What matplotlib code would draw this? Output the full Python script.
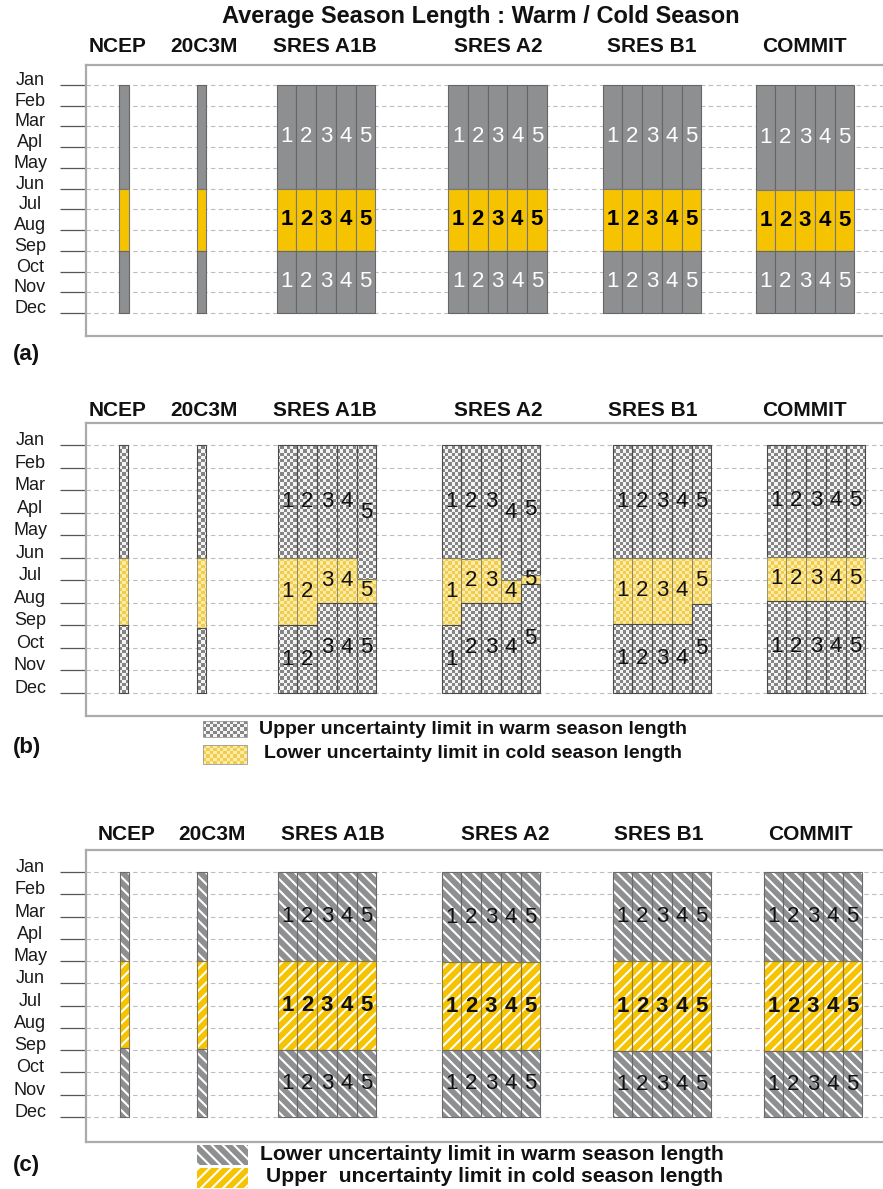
import numpy as np
import matplotlib
matplotlib.use('Agg')
import matplotlib.pyplot as plt
from matplotlib.colors import ListedColormap
from matplotlib.patches import Rectangle
from matplotlib.path import Path

plt.rcParams['font.family'] = ['Liberation Sans', 'DejaVu Sans']
plt.rcParams['hatch.linewidth'] = 1.5

# ---- data -------------------------------------------------------------
months = ['Jan', 'Feb', 'Mar', 'Apl', 'May', 'Jun',
          'Jul', 'Aug', 'Sep', 'Oct', 'Nov', 'Dec']
sources = ['NCEP', '20C3M', 'SRES A1B', 'SRES A2', 'SRES B1', 'COMMIT']
runs = ['1', '2', '3', '4', '5']
year_start, year_end = 1.0, 12.0   # Jan .. Dec

# warm season start / end (month units, Jan = 1), one list per source
warm_start_a = [[6.0], [6.0],
                [6.0, 6.0, 6.0, 6.0, 6.0],
                [6.0, 6.0, 6.0, 6.0, 6.0],
                [6.0, 6.0, 6.0, 6.0, 6.0],
                [6.05, 6.05, 6.05, 6.05, 6.05]]
warm_end_a = [[9.0], [9.0],
              [9.0, 9.0, 9.0, 9.0, 9.0],
              [9.0, 9.0, 9.0, 9.0, 9.0],
              [9.0, 9.0, 9.0, 9.0, 9.0],
              [9.0, 9.0, 9.0, 9.0, 9.0]]

warm_start_b = [[6.0], [6.0],
                [6.0, 6.0, 6.0, 6.0, 6.95],
                [6.0, 6.05, 6.0, 7.0, 6.75],
                [6.0, 6.0, 6.0, 6.0, 6.0],
                [5.95, 5.95, 5.95, 5.95, 5.95]]
warm_end_b = [[9.0], [9.1],
              [9.0, 9.0, 8.0, 8.0, 8.0],
              [9.0, 8.0, 8.0, 8.0, 7.15],
              [8.95, 8.95, 8.95, 8.95, 8.05],
              [7.9, 7.9, 7.9, 7.9, 7.9]]

warm_start_c = [[5.0], [5.0],
                [5.0, 5.0, 5.0, 5.0, 5.0],
                [5.05, 5.05, 5.05, 5.05, 5.05],
                [5.0, 5.0, 5.0, 5.0, 5.0],
                [5.0, 5.0, 5.0, 5.0, 5.0]]
warm_end_c = [[8.9], [8.95],
              [9.0, 9.0, 9.0, 9.0, 9.0],
              [9.0, 9.0, 9.0, 9.0, 9.0],
              [9.05, 9.05, 9.05, 9.05, 9.05],
              [9.05, 9.05, 9.05, 9.05, 9.05]]

# ---- layout (pixels) ----------------------------------------------------
W, H = 883, 1189
AX_LEFT = 86
run_w, single_w = 19.7, 9.5
cell_px = 3.3

centers = [[124, 201.5, 326, 497.5, 652, 805],
           [123.5, 201.5, 327, 491, 662, 816],
           [124.5, 202, 327, 491, 662, 813]]
header_x = [[118, 204, 325, 498, 652, 804],
            [118, 204, 325, 498, 653, 804],
            [127, 212, 333, 505, 659, 810]]
header_y = [47, 411, 834]
boxes = [(65, 336), (423, 716), (850, 1142)]
jan_dec = [(85, 313), (445, 693), (872, 1117)]

GRAY = '#8e8f91'
YELLOW = '#f6c300'
DIGIT = 16

fig = plt.figure(figsize=(W / 100, H / 100), dpi=100)
ov = fig.add_axes([0, 0, 1, 1], zorder=-1)
ov.set_xlim(0, W)
ov.set_ylim(H, 0)
ov.axis('off')


def bar_x(c, n):
    w = run_w if n > 1 else single_w
    return c + (np.arange(n) - (n - 1) / 2) * w, w


def draw_segments(ax, cents, starts, ends, kw_cold, kw_warm):
    cold, warm = [], []
    for c, st, en in zip(cents, starts, ends):
        st = np.asarray(st, float)
        en = np.asarray(en, float)
        xs, w = bar_x(c, len(st))
        cold += list(ax.bar(xs, st - year_start, bottom=year_start, width=w, **kw_cold))
        warm += list(ax.bar(xs, en - st, bottom=st, width=w, **kw_warm))
        cold += list(ax.bar(xs, year_end - en, bottom=en, width=w, **kw_cold))
    return cold, warm


def draw_numbers(ax, cents, starts, ends, styles):
    for c, st, en in zip(cents, starts, ends):
        if len(st) == 1:
            continue
        xs, _ = bar_x(c, len(st))
        for x, s, e, r in zip(xs, st, en, runs):
            ax.text(x, (year_start + s) / 2, r, ha='center', va='center', zorder=6, **styles[0])
            ax.text(x, (s + e) / 2, r, ha='center', va='center', zorder=6, **styles[1])
            ax.text(x, (e + year_end) / 2, r, ha='center', va='center', zorder=6, **styles[2])


def checker_array(nx, ny):
    return np.add.outer(np.arange(ny), np.arange(nx)) % 2


def checker_fill(ax, patches, c1, c2):
    x0, x1 = ax.get_xlim()
    y0, y1 = ax.get_ylim()
    bb = ax.get_position()
    nx = int(round(bb.width * W / cell_px))
    ny = int(round(bb.height * H / cell_px))
    im = ax.imshow(checker_array(nx, ny), cmap=ListedColormap([c1, c2]), vmin=0, vmax=1,
                   extent=(x0, x1, y0, y1), aspect='auto', interpolation='nearest', zorder=3)
    path = Path.make_compound_path(*[p.get_path().transformed(p.get_patch_transform())
                                     for p in patches])
    im.set_clip_path(path, ax.transData)
    ax.set_xlim(x0, x1)
    ax.set_ylim(y0, y1)


def make_axes(i):
    top, bot = boxes[i]
    jan, dec = jan_dec[i]
    ax = fig.add_axes([AX_LEFT / W, 1 - bot / H, (W - AX_LEFT) / W, (bot - top) / H])
    per = (dec - jan) / 11
    ax.set_xlim(AX_LEFT, W)
    ax.set_ylim(12 + (bot - dec) / per, 1 - (jan - top) / per)
    ax.set_xticks([])
    ax.set_yticks(np.arange(1, 13))
    ax.set_yticklabels(months, ha='center', va='baseline', fontsize=13, color='#1a1a1a')
    ax.tick_params(axis='y', length=18.7, width=0.9, color='#555555', pad=21.6)
    ax.yaxis.grid(True, linestyle=(0, (4, 3)), color='#bdbdbd', linewidth=0.8)
    ax.set_axisbelow(True)
    for s in ['top', 'left', 'bottom']:
        ax.spines[s].set_color('#ababab')
        ax.spines[s].set_linewidth(1.6)
    ax.spines['right'].set_visible(False)
    for name, hx in zip(sources, header_x[i]):
        fig.text(hx / W, 1 - header_y[i] / H, name, ha='center', va='center',
                 fontsize=15, fontweight='bold', color='#111111')
    return ax


# ---- (a) mean season length -----------------------------------------
ax_a = make_axes(0)
lim = (ax_a.get_xlim(), ax_a.get_ylim())
draw_segments(ax_a, centers[0], warm_start_a, warm_end_a,
              dict(color=GRAY, edgecolor='#666666', linewidth=0.8, zorder=3),
              dict(color=YELLOW, edgecolor='#777777', linewidth=0.8, zorder=3))
draw_numbers(ax_a, centers[0], warm_start_a, warm_end_a,
             [dict(color='white', fontsize=DIGIT),
              dict(color='black', fontsize=DIGIT, fontweight='bold'),
              dict(color='white', fontsize=DIGIT)])
ax_a.set_xlim(*lim[0])
ax_a.set_ylim(*lim[1])

# ---- (b) upper warm / lower cold limits (checker) ---------------------
ax_b = make_axes(1)
lim = (ax_b.get_xlim(), ax_b.get_ylim())
edge_kw = dict(facecolor='none', edgecolor='#4a4a4a', linewidth=0.8, zorder=4)
cold_b, warm_b = draw_segments(ax_b, centers[1], warm_start_b, warm_end_b, edge_kw,
                               dict(facecolor='none', edgecolor='#8a8a6a', linewidth=0.6, zorder=4))
ax_b.set_xlim(*lim[0])
ax_b.set_ylim(*lim[1])
checker_fill(ax_b, cold_b, '#858585', '#f4f4f4')
checker_fill(ax_b, warm_b, '#f0cd50', '#fdeca8')
draw_numbers(ax_b, centers[1], warm_start_b, warm_end_b,
             [dict(color='#111111', fontsize=DIGIT)] * 3)

# ---- (c) lower warm / upper cold limits (stripes) ---------------------
ax_c = make_axes(2)
lim = (ax_c.get_xlim(), ax_c.get_ylim())
draw_segments(ax_c, centers[2], warm_start_c, warm_end_c,
              dict(color=GRAY, edgecolor='white', hatch='\\\\\\', linewidth=0, zorder=3),
              dict(color=YELLOW, edgecolor='white', hatch='///', linewidth=0, zorder=3))
draw_segments(ax_c, centers[2], warm_start_c, warm_end_c,
              dict(facecolor='none', edgecolor='#6a6a6a', linewidth=0.8, zorder=4),
              dict(facecolor='none', edgecolor='#8a7a40', linewidth=0.8, zorder=4))
draw_numbers(ax_c, centers[2], warm_start_c, warm_end_c,
             [dict(color='#111111', fontsize=DIGIT),
              dict(color='#111111', fontsize=DIGIT, fontweight='bold'),
              dict(color='#111111', fontsize=DIGIT)])
ax_c.set_xlim(*lim[0])
ax_c.set_ylim(*lim[1])

# ---- title, panel letters, legends -----------------------------------
fig.text(481 / W, 1 - 17 / H, 'Average Season Length : Warm / Cold Season',
         ha='center', va='center', fontsize=17, fontweight='bold', color='#111111')
for lab, py in zip(['(a)', '(b)', '(c)'], [355, 747, 1165]):
    fig.text(13 / W, 1 - py / H, lab, ha='left', va='center', fontsize=16,
             fontweight='bold', color='#111111')


def checker_swatch(x, y, w, h, c1, c2):
    nx = int(round(w / cell_px))
    ny = int(round(h / cell_px))
    ov.imshow(checker_array(nx, ny), cmap=ListedColormap([c1, c2]), vmin=0, vmax=1,
              extent=(x, x + w, y + h, y), aspect='auto', interpolation='nearest')
    ov.add_patch(Rectangle((x, y), w, h, facecolor='none', edgecolor='#9a9a9a', linewidth=0.6))


checker_swatch(203, 721, 44, 16, '#858585', '#f4f4f4')
checker_swatch(203, 745, 44, 19, '#f0cd50', '#fdeca8')
ov.set_xlim(0, W)
ov.set_ylim(H, 0)
fig.text(259 / W, 1 - 730 / H, 'Upper uncertainty limit in warm season length',
         ha='left', va='center', fontsize=14, fontweight='bold', color='#111111')
fig.text(264 / W, 1 - 753 / H, 'Lower uncertainty limit in cold season length',
         ha='left', va='center', fontsize=14, fontweight='bold', color='#111111')

ov.add_patch(Rectangle((197, 1145), 51, 20, facecolor=GRAY, edgecolor='white',
                       hatch='\\\\\\', linewidth=0))
ov.add_patch(Rectangle((197, 1168), 51, 20, facecolor=YELLOW, edgecolor='white',
                       hatch='///', linewidth=0))
fig.text(260 / W, 1 - 1155 / H, 'Lower uncertainty limit in warm season length',
         ha='left', va='center', fontsize=15.2, fontweight='bold', color='#111111')
fig.text(266 / W, 1 - 1177 / H, 'Upper  uncertainty limit in cold season length',
         ha='left', va='center', fontsize=15.2, fontweight='bold', color='#111111')

fig.savefig('out.png', dpi=100)
